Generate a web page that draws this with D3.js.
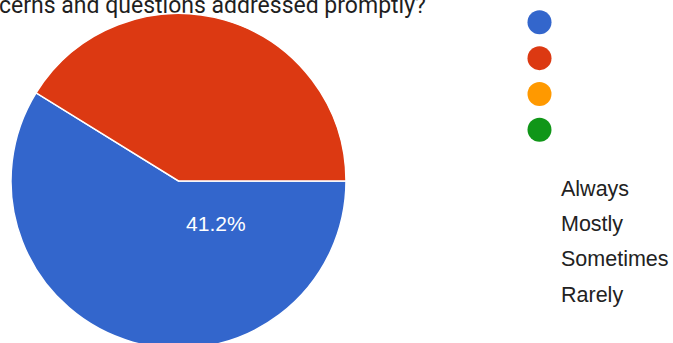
<!DOCTYPE html>
<html>
<head>
<meta charset="utf-8">
<script src="https://cdn.jsdelivr.net/npm/d3@7"></script>
<style>
  html, body { margin: 0; padding: 0; background: #fff; overflow: hidden; }
  svg { display: block; }
</style>
</head>
<body>
<svg id="chart" width="673" height="343"></svg>
<script>
const titleText = "cerns and questions addressed promptly?";
const categories = ["Always", "Mostly", "Sometimes", "Rarely"];
const counts = [10, 7, 0, 0];
const colors = ["#3366cc", "#dc3912", "#ff9900", "#109618"];
const sliceLabels = ["41.2%"];

const W = 673, H = 343;
const svg = d3.select("#chart");

// Title (clipped at top as in the reference)
svg.append("text")
  .attr("x", -1).attr("y", 13)
  .attr("text-anchor", "start")
  .attr("font-family", "Roboto, 'Noto Sans', sans-serif")
  .attr("font-size", 23)
  .attr("fill", "#1f1f1f")
  .text(titleText);

// Pie
const cx = 178.5, cy = 181, R = 167.5;
const g = svg.append("g").attr("transform", `translate(${cx},${cy})`);
const pie = d3.pie().sort(null).value(d => d)
  .startAngle(Math.PI / 2).endAngle(Math.PI / 2 + 2 * Math.PI);
const arcs = pie(counts);
const arc = d3.arc().innerRadius(0).outerRadius(R);
const color = d3.scaleOrdinal().domain(categories).range(colors);

g.selectAll("path.slice")
  .data(arcs.filter(a => a.value > 0))
  .join("path")
  .attr("class", "slice")
  .attr("d", arc)
  .attr("fill", d => color(categories[d.index]))
  .attr("stroke", "#fff")
  .attr("stroke-width", 1.5);

// Percentage label (positioned as in the reference, inside the blue area)
const labelAngle = 139 * Math.PI / 180, labelR = 0.34 * R;
g.append("text")
  .attr("x", labelR * Math.sin(labelAngle))
  .attr("y", -labelR * Math.cos(labelAngle) + 7)
  .attr("text-anchor", "middle")
  .attr("font-family", "'Liberation Sans', Arial, sans-serif")
  .attr("font-size", 21)
  .attr("fill", "#ffffff")
  .text(sliceLabels[0]);

// Legend dots
const dotY = d3.scalePoint().domain(categories).range([22.3, 129.8]);
svg.selectAll("circle.legdot")
  .data(categories)
  .join("circle")
  .attr("class", "legdot")
  .attr("cx", 539.5)
  .attr("cy", d => dotY(d))
  .attr("r", 12)
  .attr("fill", d => color(d));

// Legend labels
const labY = d3.scalePoint().domain(categories).range([195.7, 301.5]);
svg.selectAll("text.leglab")
  .data(categories)
  .join("text")
  .attr("class", "leglab")
  .attr("x", 561)
  .attr("y", d => labY(d))
  .attr("font-family", "'Liberation Sans', Arial, sans-serif")
  .attr("font-size", 21.5)
  .attr("fill", "#222222")
  .text(d => d);
</script>
</body>
</html>
